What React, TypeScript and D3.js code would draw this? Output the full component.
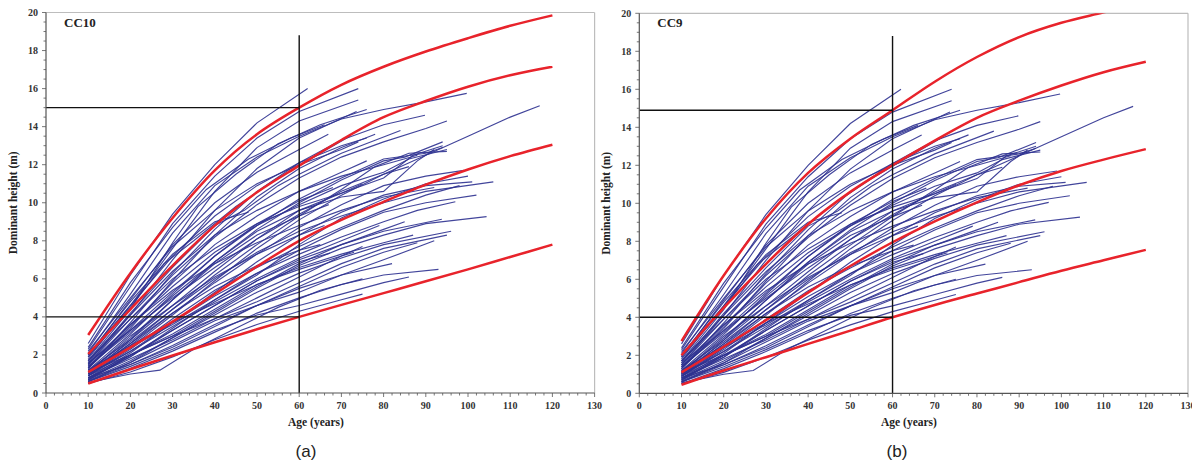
import * as d3 from "d3";

type Pt = [number, number];

const AGE_TICKS = [0, 10, 20, 30, 40, 50, 60, 70, 80, 90, 100, 110, 120, 130];
const HEIGHT_TICKS = [0, 2, 4, 6, 8, 10, 12, 14, 16, 18, 20];

// observed stem-analysis profiles (age, dominant height) – same trees in both panels
const profiles: Pt[][] = [
  [[10, 2.6], [20, 6.2], [30, 9.4], [40, 12.0], [50, 14.2], [62, 16.0]],
  [[10, 2.3], [20, 5.6], [30, 8.9], [40, 11.4], [50, 13.4], [60, 14.8], [74, 16.0]],
  [[10, 2.0], [20, 4.6], [30, 7.6], [40, 10.6], [50, 12.9], [60, 14.3], [74, 15.4]],
  [[10, 1.7], [20, 4.4], [30, 7.9], [36, 9.8], [45, 11.5], [55, 13.1], [65, 14.1], [76, 14.9]],
  [[10, 2.1], [20, 5.2], [30, 8.4], [40, 10.9], [50, 12.4], [60, 13.5], [70, 14.4], [80, 14.9], [90, 15.3], [99.7, 15.75]],
  [[10, 1.5], [20, 4.1], [30, 7.0], [40, 9.6], [50, 11.8], [60, 13.4], [73.6, 14.8]],
  [[10, 1.9], [20, 4.9], [30, 7.8], [40, 10.0], [50, 11.6], [60, 12.8], [66.9, 13.6]],
  [[10, 1.3], [20, 3.7], [30, 6.3], [40, 8.6], [50, 10.6], [60, 12.1], [70, 13.3], [80, 14.1], [89.8, 14.6]],
  [[10, 1.6], [20, 4.2], [30, 6.6], [40, 8.8], [47, 9.6], [55, 10.9], [60, 11.5], [70, 12.6], [84, 13.8]],
  [[10, 1.1], [20, 2.9], [30, 4.9], [40, 6.9], [50, 8.6], [60, 10.0], [70, 11.2], [80, 12.2], [85, 12.4], [94, 13.2]],
  [[10, 1.0], [20, 2.6], [30, 4.4], [40, 6.2], [50, 7.8], [60, 9.3], [70, 10.7], [78, 11.9], [86, 12.6], [95, 12.7]],
  [[10, 1.4], [20, 3.3], [30, 5.3], [40, 7.2], [50, 8.8], [60, 10.2], [70, 11.3], [80, 12.3], [90, 12.6], [94, 12.9]],
  [[10, 0.9], [20, 2.4], [30, 4.1], [40, 5.9], [50, 7.6], [60, 9.1], [70, 10.4], [80, 11.5], [90, 12.5], [100, 13.5], [110, 14.5], [117, 15.1]],
  [[10, 1.2], [20, 3.1], [30, 5.2], [40, 7.2], [50, 8.9], [60, 10.1], [68, 10.8]],
  [[10, 1.0], [20, 2.5], [30, 4.2], [40, 5.8], [50, 7.3], [60, 8.7], [70, 9.9], [80, 10.9], [90, 11.4], [99, 11.7]],
  [[10, 0.8], [20, 2.1], [30, 3.7], [40, 5.3], [50, 6.9], [60, 8.3], [70, 9.5], [80, 10.4], [90, 10.9], [101, 11.1]],
  [[10, 1.1], [20, 2.7], [30, 4.4], [40, 6.0], [50, 7.4], [60, 8.5], [70, 9.3], [80, 10.0], [90, 10.6], [106, 11.1]],
  [[10, 0.7], [20, 1.9], [30, 3.4], [40, 4.9], [50, 6.3], [60, 7.5], [70, 8.6], [80, 9.5], [90, 10.0], [102, 10.4]],
  [[10, 0.9], [20, 2.2], [30, 3.7], [40, 5.1], [50, 6.3], [60, 7.3], [70, 8.2], [80, 9.0], [88, 9.6], [97, 10.05]],
  [[10, 0.6], [20, 1.6], [30, 2.9], [40, 4.2], [50, 5.5], [60, 6.7], [70, 7.6], [80, 8.3], [90, 8.9], [104.4, 9.27]],
  [[10, 0.8], [20, 1.9], [30, 3.3], [40, 4.6], [50, 5.9], [60, 7.0], [70, 7.8], [80, 8.5], [93.8, 9.13]],
  [[10, 0.7], [20, 1.7], [30, 2.9], [40, 4.1], [50, 5.3], [60, 6.3], [70, 7.1], [80, 7.8], [96, 8.5]],
  [[10, 0.6], [20, 1.5], [30, 2.5], [40, 3.6], [50, 4.6], [60, 5.5], [70, 6.2], [82, 6.8]],
  [[10, 0.5], [20, 1.3], [30, 2.2], [40, 3.2], [50, 4.2], [60, 5.0], [70, 5.7], [80, 6.2], [93, 6.5]],
  [[10, 0.55], [20, 1.0], [27, 1.2], [35, 2.3], [45, 3.4], [55, 4.5], [65, 5.4], [75, 6.0]],
  [[10, 0.75], [20, 2.0], [30, 3.3], [40, 4.6], [50, 5.9], [60, 6.9], [67.3, 7.35]],
  [[10, 1.0], [20, 2.6], [30, 4.2], [40, 5.6], [50, 6.7], [60, 7.5], [65, 7.8]],
  [[10, 0.65], [20, 1.6], [30, 2.7], [40, 3.8], [50, 4.6], [60, 5.3], [70, 6.2], [80, 7.0], [92, 8.0]],
  [[10, 0.9], [20, 2.0], [30, 3.0], [40, 3.9], [50, 4.8], [60, 5.8], [70, 6.8], [80, 7.6], [95, 8.3]],
  [[10, 1.3], [20, 3.5], [30, 5.8], [40, 7.8], [50, 9.3], [60, 10.6], [70, 11.6], [76, 12.2]],
  [[10, 1.8], [20, 4.6], [30, 7.2], [40, 9.3], [50, 10.9], [60, 12.1], [70, 13.0], [76, 13.4]],
  [[10, 1.5], [20, 3.6], [30, 5.6], [40, 7.4], [50, 8.8], [60, 9.9], [70, 10.9], [80, 11.6], [86, 12.3], [95, 12.8]],
  [[10, 1.7], [20, 3.9], [30, 6.0], [40, 7.6], [50, 8.9], [60, 9.8], [70, 10.5], [80, 11.3], [87, 12.5], [94, 13.0]],
  [[10, 1.1], [20, 3.0], [30, 4.6], [40, 6.4], [50, 8.1], [60, 9.6], [70, 10.3], [80, 10.6], [88, 12.2], [92, 12.8]],
  [[10, 2.0], [20, 4.8], [30, 7.3], [40, 9.0], [48, 9.5]],
  [[10, 1.4], [20, 3.2], [30, 5.1], [40, 6.9], [50, 8.5], [60, 9.6], [70, 10.5], [75, 11.0]],
  [[10, 1.2], [20, 2.8], [30, 4.6], [40, 6.1], [50, 7.3], [60, 8.3], [66, 8.8]],
  [[10, 0.9], [20, 2.3], [30, 3.9], [40, 5.4], [50, 6.6], [60, 7.7], [70, 8.7], [80, 9.6], [90, 10.4], [98, 10.9]],
  [[10, 1.6], [20, 3.3], [30, 5.0], [40, 6.6], [50, 8.1], [60, 9.4], [70, 10.6], [80, 11.5], [86, 11.9]],
  [[10, 1.0], [20, 2.2], [30, 3.5], [40, 4.8], [50, 6.0], [60, 7.1], [70, 8.0], [79, 8.8]],
  [[10, 0.8], [20, 1.8], [30, 2.8], [40, 3.9], [50, 5.0], [60, 6.1], [70, 7.2], [75, 7.7]],
  [[10, 1.5], [20, 3.9], [30, 6.2], [40, 8.2], [50, 9.9], [60, 11.3], [70, 12.4], [80, 13.2], [90, 13.9], [95, 14.3]],
  [[10, 1.9], [20, 4.5], [28, 6.8], [35, 8.0], [45, 9.8], [55, 11.3], [65, 12.6], [72, 13.5]],
  [[10, 2.4], [20, 5.8], [30, 8.7], [38, 10.7], [48, 12.3], [58, 13.4], [66, 14.1]],
  [[10, 1.3], [20, 3.4], [30, 5.9], [40, 8.3], [50, 10.3], [60, 11.8], [70, 12.9], [78, 13.6]],
  [[10, 0.7], [20, 2.0], [30, 3.1], [40, 4.4], [50, 5.7], [60, 6.6], [70, 7.3], [80, 7.9], [87, 8.3]],
  [[10, 1.2], [20, 2.5], [30, 3.7], [40, 4.7], [50, 5.7], [60, 6.5], [70, 7.2], [73, 7.4]],
  [[10, 0.6], [20, 1.4], [30, 2.3], [40, 3.3], [50, 4.1], [60, 4.6], [70, 5.2], [80, 5.8], [86, 6.1]],
  [[10, 1.0], [20, 2.4], [30, 3.6], [40, 4.9], [50, 6.2], [60, 7.8], [70, 9.2], [80, 10.2], [90, 11.0], [100, 11.4]],
  [[10, 1.7], [20, 4.1], [30, 6.4], [40, 8.3], [50, 9.6], [60, 10.6], [70, 11.4], [80, 12.0], [88, 12.5]],
  [[10, 0.9], [20, 2.8], [30, 4.9], [40, 6.8], [50, 8.3], [60, 9.3], [67, 9.9]],
  [[10, 2.2], [20, 5.0], [30, 7.7], [40, 9.6], [50, 11.0], [60, 12.0], [70, 12.8], [74, 13.2]],
  [[10, 1.4], [20, 3.6], [30, 5.4], [40, 6.8], [50, 7.9], [60, 8.8], [70, 9.6], [80, 10.3], [92, 10.8]],
  [[10, 1.1], [20, 2.0], [30, 3.0], [40, 4.3], [50, 5.6], [60, 6.8], [70, 7.8], [80, 8.6], [85, 9.0]],
  [[10, 0.8], [20, 1.5], [30, 2.4], [40, 3.5], [50, 4.6], [60, 5.6], [70, 6.6], [80, 7.4], [88, 7.9]],
  [[10, 0.5], [20, 1.1], [30, 1.9], [40, 2.8], [50, 3.6], [60, 4.3], [70, 4.9], [75, 5.2]],
];

// site index curves, panel (a) CC10
const curvesCC10: Pt[][] = [
  [[10, 3.05], [20, 6.3], [30, 9.2], [40, 11.7], [50, 13.6], [60, 15.0], [70, 16.2], [80, 17.15], [90, 17.95], [100, 18.65], [110, 19.3], [120, 19.85]],
  [[10, 2.05], [20, 4.4], [30, 6.7], [40, 8.8], [50, 10.55], [60, 11.95], [70, 13.3], [80, 14.5], [90, 15.35], [100, 16.1], [110, 16.7], [120, 17.15]],
  [[10, 1.1], [20, 2.4], [30, 3.75], [40, 5.2], [50, 6.65], [60, 8.0], [70, 9.1], [80, 10.05], [90, 10.95], [100, 11.75], [110, 12.45], [120, 13.05]],
  [[10, 0.5], [20, 1.25], [30, 1.97], [40, 2.67], [50, 3.35], [60, 4.0], [70, 4.63], [80, 5.25], [90, 5.87], [100, 6.5], [110, 7.15], [120, 7.8]],
];

// site index curves, panel (b) CC9
const curvesCC9: Pt[][] = [
  [[10, 2.75], [20, 6.2], [30, 9.2], [40, 11.6], [50, 13.4], [60, 14.9], [70, 16.4], [80, 17.7], [90, 18.75], [100, 19.5], [110, 20.05], [120, 20.6]],
  [[10, 2.0], [20, 4.5], [30, 6.8], [40, 8.9], [50, 10.6], [60, 12.0], [70, 13.3], [80, 14.5], [90, 15.4], [100, 16.2], [110, 16.9], [120, 17.45]],
  [[10, 1.1], [20, 2.45], [30, 3.85], [40, 5.3], [50, 6.7], [60, 7.95], [70, 9.05], [80, 10.05], [90, 10.95], [100, 11.7], [110, 12.3], [120, 12.85]],
  [[10, 0.45], [20, 1.2], [30, 1.9], [40, 2.6], [50, 3.3], [60, 4.0], [70, 4.65], [80, 5.25], [90, 5.85], [100, 6.45], [110, 7.0], [120, 7.55]],
];

// reference guides: base age, upper/lower site index, height of the vertical guide
const guidesCC10 = { age: 60, upper: 15, lower: 4, top: 18.8 };
const guidesCC9 = { age: 60, upper: 14.9, lower: 4, top: 18.8 };

const BLUE = "#2d3190";
const RED = "#e8232b";
const SERIF = "'Liberation Serif', 'Times New Roman', serif";

const panels = [
  { key: "a", name: "CC10", tag: "(a)", curves: curvesCC10, guides: guidesCC10,
    left: 46, right: 594.6, top: 12.5, bottom: 393, tagX: 306, titleX: 316 },
  { key: "b", name: "CC9", tag: "(b)", curves: curvesCC9, guides: guidesCC9,
    left: 639.3, right: 1188, top: 13.3, bottom: 393.3, tagX: 897, titleX: 909 },
];

function Panel({ p }: { p: (typeof panels)[number] }) {
  const x = d3.scaleLinear().domain([0, 130]).range([p.left, p.right]);
  const y = d3.scaleLinear().domain([0, 20]).range([p.bottom, p.top]);
  const straight = d3.line<Pt>().x((d) => x(d[0])).y((d) => y(d[1]));
  const smooth = d3.line<Pt>().x((d) => x(d[0])).y((d) => y(d[1])).curve(d3.curveCatmullRom.alpha(0.5));
  const minorX = d3.range(0, 131, 2);
  const minorY = d3.range(0, 20.01, 0.5);
  const g = p.guides;
  const clipId = `clip-${p.key}`;

  return (
    <g>
      <defs>
        <clipPath id={clipId}>
          <rect x={p.left} y={p.top} width={p.right - p.left} height={p.bottom - p.top} />
        </clipPath>
      </defs>

      {/* frame: light top/right, dark axes */}
      <line x1={p.left} x2={p.right} y1={p.top} y2={p.top} stroke="#bdbdbd" strokeWidth={1.2} />
      <line x1={p.right} x2={p.right} y1={p.top} y2={p.bottom} stroke="#bdbdbd" strokeWidth={1.2} />

      <g clipPath={`url(#${clipId})`}>
        {profiles.map((pr, i) => (
          <path key={i} d={straight(pr) ?? ""} fill="none" stroke={BLUE} strokeWidth={1.15} strokeOpacity={0.9} />
        ))}
        {p.curves.map((c, i) => (
          <path key={i} d={smooth(c) ?? ""} fill="none" stroke={RED} strokeWidth={2.5} />
        ))}
      </g>

      {/* guide lines */}
      <line x1={x(0)} x2={x(g.age)} y1={y(g.upper)} y2={y(g.upper)} stroke="#111" strokeWidth={1.4} />
      <line x1={x(0)} x2={x(g.age)} y1={y(g.lower)} y2={y(g.lower)} stroke="#111" strokeWidth={1.4} />
      <line x1={x(g.age)} x2={x(g.age)} y1={y(0)} y2={y(g.top)} stroke="#111" strokeWidth={1.4} />

      {/* axes */}
      <line x1={p.left} x2={p.left} y1={p.top} y2={p.bottom} stroke="#555" strokeWidth={1.2} />
      <line x1={p.left} x2={p.right} y1={p.bottom} y2={p.bottom} stroke="#555" strokeWidth={1.2} />
      {minorX.map((t) => (
        <line key={`mx${t}`} x1={x(t)} x2={x(t)} y1={p.bottom} y2={p.bottom + (t % 10 === 0 ? 4 : 2.5)} stroke="#555" strokeWidth={0.8} />
      ))}
      {minorY.map((t) => (
        <line key={`my${t}`} x1={p.left} x2={p.left - (t % 2 === 0 ? 4 : 2.5)} y1={y(t)} y2={y(t)} stroke="#555" strokeWidth={0.8} />
      ))}
      {AGE_TICKS.map((t) => (
        <text key={`tx${t}`} x={x(t)} y={p.bottom + 16} textAnchor="middle"
          fontFamily={SERIF} fontWeight="bold" fontSize={10} fill="#333">{t}</text>
      ))}
      {HEIGHT_TICKS.map((t) => (
        <text key={`ty${t}`} x={p.left - 8} y={y(t)} dy="0.35em" textAnchor="end"
          fontFamily={SERIF} fontWeight="bold" fontSize={10} fill="#333">{t}</text>
      ))}

      <text x={p.titleX} y={p.bottom + 33} textAnchor="middle" fontFamily={SERIF} fontWeight="bold" fontSize={11.5} fill="#222">
        Age (years)
      </text>
      <text transform={`translate(${p.left - 29},${(p.top + p.bottom) / 2}) rotate(-90)`} textAnchor="middle"
        fontFamily={SERIF} fontWeight="bold" fontSize={11.5} fill="#222">
        Dominant height (m)
      </text>
      <text x={p.left + 18} y={27} fontFamily={SERIF} fontWeight="bold" fontSize={13} fill="#222">{p.name}</text>
      <text x={p.tagX} y={457} textAnchor="middle" fontFamily="'Liberation Sans', Arial, sans-serif" fontSize={17} fill="#222">
        {p.tag}
      </text>
    </g>
  );
}

export default function App() {
  return (
    <div style={{ position: "absolute", left: 0, top: 0 }}>
      <svg width={1192} height={464} style={{ display: "block", background: "#fff" }}>
        {panels.map((p) => (
          <Panel key={p.key} p={p} />
        ))}
      </svg>
    </div>
  );
}
